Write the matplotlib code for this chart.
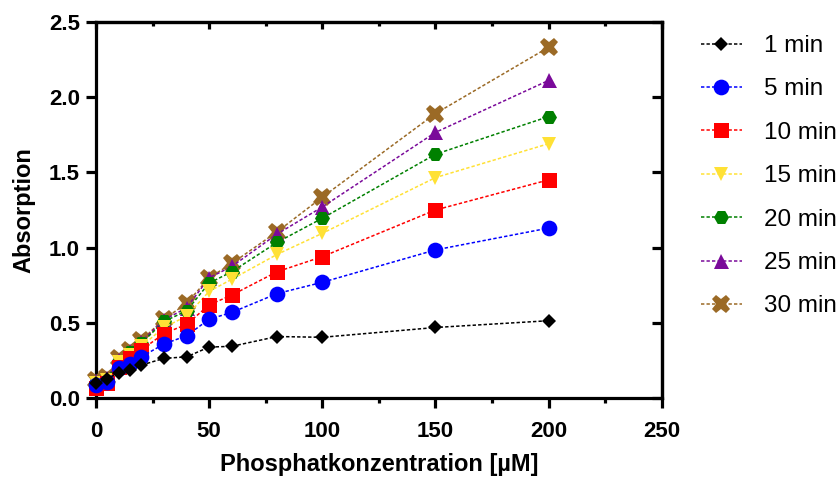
import matplotlib
matplotlib.use("Agg")
import matplotlib.pyplot as plt

plt.rcParams['font.family'] = ['Liberation Sans', 'DejaVu Sans']

conc = [0, 5, 10, 15, 20, 30, 40, 50, 60, 80, 100, 150, 200]
labels = ["1 min", "5 min", "10 min", "15 min", "20 min", "25 min", "30 min"]
abs_1 = [0.10, 0.13, 0.17, 0.185, 0.22, 0.265, 0.275, 0.34, 0.345, 0.41, 0.405, 0.47, 0.515]
abs_5 = [0.085, 0.11, 0.20, 0.23, 0.275, 0.36, 0.415, 0.525, 0.57, 0.695, 0.77, 0.985, 1.13]
abs_10 = [0.07, 0.10, 0.21, 0.265, 0.32, 0.43, 0.49, 0.62, 0.685, 0.84, 0.94, 1.25, 1.45]
abs_15 = [0.10, 0.12, 0.24, 0.29, 0.345, 0.47, 0.545, 0.71, 0.79, 0.955, 1.095, 1.465, 1.69]
abs_20 = [0.11, 0.13, 0.25, 0.305, 0.365, 0.51, 0.58, 0.765, 0.84, 1.035, 1.195, 1.62, 1.87]
abs_25 = [0.115, 0.135, 0.255, 0.315, 0.375, 0.52, 0.60, 0.80, 0.875, 1.09, 1.27, 1.765, 2.11]
abs_30 = [0.12, 0.14, 0.265, 0.32, 0.385, 0.525, 0.63, 0.80, 0.895, 1.105, 1.335, 1.89, 2.33]
series = [abs_1, abs_5, abs_10, abs_15, abs_20, abs_25, abs_30]
x_ticks = [0, 50, 100, 150, 200, 250]
x_minor = [25, 75, 125, 175, 225]
y_ticks = [0.0, 0.5, 1.0, 1.5, 2.0, 2.5]

colors = ["#000000", "#0000FF", "#FF0000", "#FFE135", "#008000", "#7A0A9A", "#9B6A26"]
markers = ["D", "o", "s", "v", "H", "^", "X"]
msizes = [7.2, 11.3, 10.8, 10.3, 10.8, 10.8, 13.5]

fig = plt.figure(figsize=(8.39, 4.79), dpi=100)
ax = fig.add_axes([96/839, 1-398.3/479, (661.7-96)/839, (398.3-21.7)/479])

n = len(series)
for i, (vals, lab, c, m, s) in enumerate(zip(series, labels, colors, markers, msizes)):
    ax.plot(conc, vals, color=c, marker=m, markersize=s, markeredgewidth=0,
            linestyle=(0, (2.2, 1.4)), linewidth=1.1, label=lab,
            zorder=10 + (n - i), clip_on=False)

ax.set_xlim(0, 250)
ax.set_ylim(0, 2.5)
ax.set_xticks(x_ticks)
ax.set_xticks(x_minor, minor=True)
ax.set_yticks(y_ticks)
ax.set_yticklabels([f"{v:.1f}" for v in y_ticks])
ax.set_xticklabels([str(v) for v in x_ticks])

for sp in ax.spines.values():
    sp.set_linewidth(2.3)

ax.tick_params(axis="both", which="major", direction="out", length=7.5, width=2.3,
               labelsize=16)
ax.tick_params(axis="x", which="major", pad=8.5)
ax.tick_params(axis="y", which="major", pad=4)
ax.tick_params(axis="x", which="minor", direction="out", length=3.3, width=2.3)
for t in ax.get_xticklabels() + ax.get_yticklabels():
    t.set_fontweight("bold")

# mirrored inward ticks on top and right
sec_x = ax.secondary_xaxis("top")
sec_x.set_xticks(x_ticks)
sec_x.set_xticks(x_minor, minor=True)
sec_x.tick_params(axis="x", which="major", direction="in", length=5, width=2.3, labeltop=False)
sec_x.tick_params(axis="x", which="minor", direction="in", length=3, width=2.3)
sec_x.spines["top"].set_linewidth(2.3)
sec_y = ax.secondary_yaxis("right")
sec_y.set_yticks(y_ticks)
sec_y.tick_params(axis="y", which="major", direction="in", length=7, width=2.3, labelright=False)
sec_y.spines["right"].set_linewidth(2.3)

ax.set_xlabel("Phosphatkonzentration [µM]", fontsize=17, fontweight="bold", labelpad=8)
ax.set_ylabel("Absorption", fontsize=17, fontweight="bold", labelpad=10)

leg = ax.legend(loc="upper left", bbox_to_anchor=(700.7/839, 1-35/479),
                bbox_transform=fig.transFigure, frameon=False, fontsize=17.5,
                handlelength=1.7, handletextpad=0.92, labelspacing=0.88,
                borderaxespad=0, borderpad=0, markerscale=1)

fig.savefig("out.png", dpi=100)
